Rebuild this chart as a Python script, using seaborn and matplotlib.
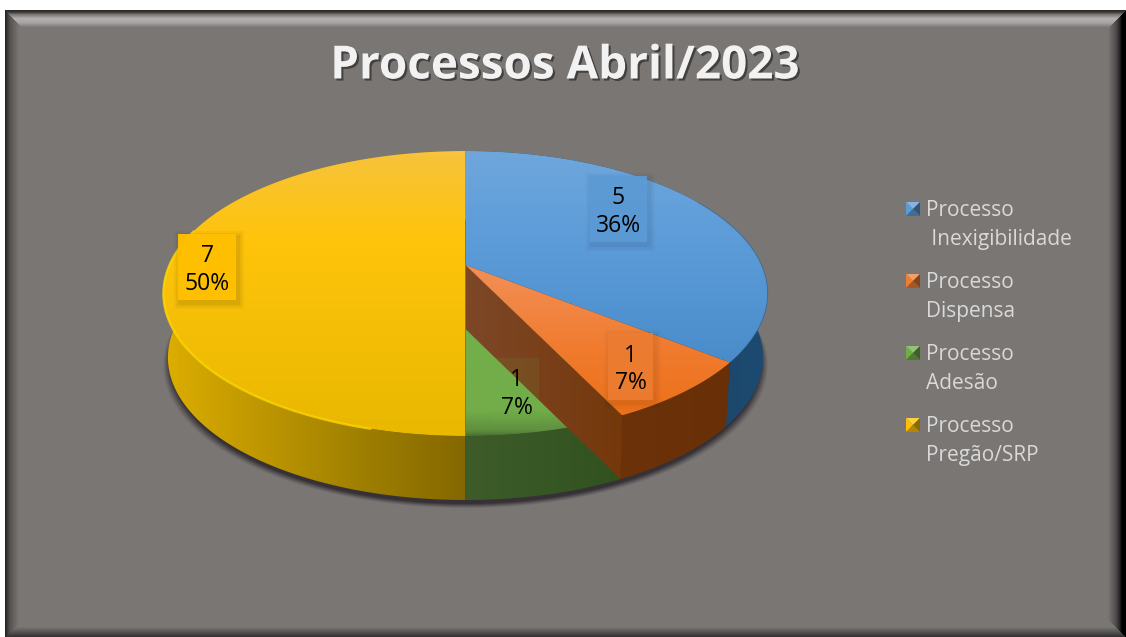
import numpy as np
import matplotlib
matplotlib.use("Agg")
import matplotlib.pyplot as plt
import matplotlib.patheffects as pe
from matplotlib.colors import to_rgb
from matplotlib.patches import Polygon, Rectangle
import seaborn as sns

sns.set_theme(style="white")

# Data
title = "Processos Abril/2023"
categories = ["Processo\n Inexigibilidade", "Processo\nDispensa", "Processo\nAdesão", "Processo\nPregão/SRP"]
values = [5, 1, 1, 7]
palette = sns.color_palette(["#5b9bd5", "#ed7d31", "#70ad47", "#ffc000"])

W, H = 1126, 637
APEX_X, APEX_Y = 465.5, 265
RX, RY, K = 296, 136.8, 0.2   # projection of the pie disc
DEPTH = 64

fig = plt.figure(figsize=(W / 100, H / 100), dpi=100)
ax = fig.add_axes([0, 0, 1, 1])
ax.set_xlim(0, W)
ax.set_ylim(H, 0)
ax.set_autoscale_on(False)
ax.axis("off")


def rim(theta, depth=0, shrink=1.0):
    # point on the pie edge, theta clockwise from the top, in degrees
    t = np.radians(theta)
    d = 1 + K * np.cos(t)
    x = APEX_X + shrink * RX * np.sin(t) / d
    y = APEX_Y - RY * np.cos(t) / d + depth
    return np.column_stack([x, y])


def gradient(verts, stops, horizontal, z):
    # fill a polygon with a linear gradient, stops are (fraction, colour)
    verts = np.asarray(verts)
    x0, y0 = verts.min(axis=0)
    x1, y1 = verts.max(axis=0)
    pos = np.linspace(0, 1, 256)
    fr = [s[0] for s in stops]
    rgb = np.array([to_rgb(s[1]) for s in stops])
    arr = np.stack([np.interp(pos, fr, rgb[:, i]) for i in range(3)], axis=-1)
    arr = arr[np.newaxis, :, :] if horizontal else arr[:, np.newaxis, :]
    im = ax.imshow(arr, extent=[x0, x1, y1, y0], aspect="auto", zorder=z, interpolation="bilinear")
    clip = Polygon(verts, closed=True, transform=ax.transData, facecolor="none", edgecolor="none")
    ax.add_patch(clip)
    im.set_clip_path(clip)


def background():
    # grey panel with bevelled edges, white margin top and left
    yy, xx = np.mgrid[0:H, 0:W] + 0.5
    dl, dt, dr, db = xx - 5, yy - 10.5, 1126 - xx, 637 - yy
    base = np.array(to_rgb("#7a7674"))
    prof_l = np.interp(dl, [0, 1.5, 5, 14], [-0.75, -0.6, -0.3, 0])
    prof_t = np.interp(dt, [0, 2, 4, 8, 12, 17], [-0.65, -0.45, 0.0, 0.42, 0.35, 0])
    prof_r = np.interp(dr, [0, 4, 6, 10, 18], [-1, -1, -0.7, -0.35, 0])
    prof_b = np.interp(db, [0, 4, 10], [-0.6, -0.35, 0])
    near = np.stack([dl, dt, dr, db]).argmin(axis=0)
    shade = np.choose(near, [prof_l, prof_t, prof_r, prof_b])
    img = np.zeros((H, W, 3))
    for c in range(3):
        img[:, :, c] = np.where(shade < 0, base[c] * (1 + shade), base[c] + (1 - base[c]) * shade)
    img[(dl < 0) | (dt < 0)] = 1
    ax.imshow(img, extent=[0, W, H, 0], aspect="auto", zorder=0, interpolation="nearest")


background()

edges = np.cumsum([0] + values) / sum(values) * 360
arcs = [np.linspace(edges[i], edges[i + 1], 150) for i in range(len(values))]
blue, orange, green, yellow = arcs

# drop shadow under the pie
all_theta = np.linspace(0, 360, 400)
for s, dy, a in zip([1.0, 0.995, 0.99, 0.985, 0.98], [8, 7, 6, 5, 4], [0.12, 0.18, 0.25, 0.35, 0.5]):
    ax.add_patch(Polygon(rim(all_theta, DEPTH + dy, s), closed=True, facecolor="#28242a",
                         edgecolor="none", alpha=a, zorder=1))


def side(theta, stops, z):
    verts = np.vstack([rim(theta), rim(theta[::-1], DEPTH, 0.985)])
    gradient(verts, stops, True, z)


def top(theta, stops, z):
    verts = np.vstack([[APEX_X, APEX_Y], rim(theta)])
    gradient(verts, stops, False, z)


# outer walls
side(blue, [(0, "#1b3f60"), (1, "#1d4a70")], 2)
side(green, [(0, "#3d5c2a"), (1, "#31521f")], 2)
side(orange, [(0, "#6c3208"), (1, "#693008")], 2)
side(yellow, [(0, "#e0b000"), (0.05, "#d8aa00"), (0.3, "#c09800"), (0.65, "#a08000"), (1, "#846700")], 2)

# top faces
top(blue, [(0, "#6fa7dc"), (0.45, "#5b9bd8"), (1, "#4a8ccb")], 3)
top(green, [(0, "#74b04c"), (0.85, "#72ad4a"), (0.97, "#5f8f3e"), (1, "#4a7032")], 3)

# cut wall in front of the green slice
p = rim(np.array([edges[2]]))[0]
q = rim(np.array([edges[2]]), DEPTH, 0.99)[0]
wall = [[APEX_X, APEX_Y], p, q, [APEX_X, APEX_Y + DEPTH]]
gradient(wall, [(0, "#7d4728"), (0.6, "#783e16"), (1, "#74380a")], True, 4)

top(orange, [(0, "#f29058"), (0.6, "#f07a2c"), (1, "#ec7018")], 5)
top(yellow, [(0, "#f6c33c"), (0.3, "#ffc40c"), (1, "#e9b800")], 5)

# bright edge of the yellow slice
edge = rim(np.linspace(195, 285, 100))
ax.plot(edge[:, 0], edge[:, 1], color="#ffd900", lw=1.6, alpha=0.8, zorder=6)
edge = rim(np.linspace(60, 125, 60))
ax.plot(edge[:, 0], edge[:, 1], color="#2c5f8f", lw=0.8, alpha=0.4, zorder=6)

# data labels
box_x0 = [590, 608, 494, 178]
box_x1 = [647, 653, 539, 236]
box_y0 = [176, 333, 358, 234]
box_y1 = [242, 400, 424, 300]
box_alpha = [0.9, 0.9, 0.12, 0.97]
box_shadow = [0.7, 0.6, 0, 1]
for i, v in enumerate(values):
    x0, x1, y0, y1 = box_x0[i], box_x1[i], box_y0[i], box_y1[i]
    for g, a in zip([6, 4, 2], [0.03, 0.04, 0.05]):
        ax.add_patch(Rectangle((x0 - g + 2, y0 - g + 3), x1 - x0 + 2 * g, y1 - y0 + 2 * g,
                               facecolor="black", edgecolor="none", alpha=a * box_shadow[i], zorder=7))
    ax.add_patch(Rectangle((x0, y0), x1 - x0, y1 - y0, facecolor=palette[i], edgecolor="none",
                           alpha=box_alpha[i], zorder=8))
    pct = round(v / sum(values) * 100)
    ax.text((x0 + x1) / 2, (y0 + y1) / 2 + 3, f"{v}\n{pct}%", ha="center", va="center", color="black",
            fontsize=16.5, family="Open Sans", linespacing=1.2, zorder=9)

# legend
leg_y = [209, 281, 353, 425]
for i, name in enumerate(categories):
    y = leg_y[i]
    x0, x1, y0, y1 = 906, 920, y - 7, y + 7
    cx, cy = (x0 + x1) / 2, (y0 + y1) / 2
    col = np.array(palette[i])
    light = col + (1 - col) * 0.25
    tris = [([x0, x1, cx], [y0, y0, cy], light),
            ([x0, x0, cx], [y0, y1, cy], col),
            ([x1, x1, cx], [y0, y1, cy], col * 0.55),
            ([x0, x1, cx], [y1, y1, cy], col * 0.7)]
    for tx, ty, c in tris:
        ax.fill(tx, ty, color=c, lw=0, zorder=7)
    ax.text(926, y - 9, name, ha="left", va="top", color="#d9d9d9", fontsize=15,
            family="Open Sans", linespacing=1.5, zorder=7)

ax.text(565, 66, title, ha="center", va="center", color="#f2f2f2", fontsize=33, family="Open Sans",
        fontweight="bold", zorder=9,
        path_effects=[pe.withSimplePatchShadow(offset=(1.5, -1.5), shadow_rgbFace="black", alpha=0.45)])

fig.savefig("out.png", dpi=100)
plt.close(fig)
